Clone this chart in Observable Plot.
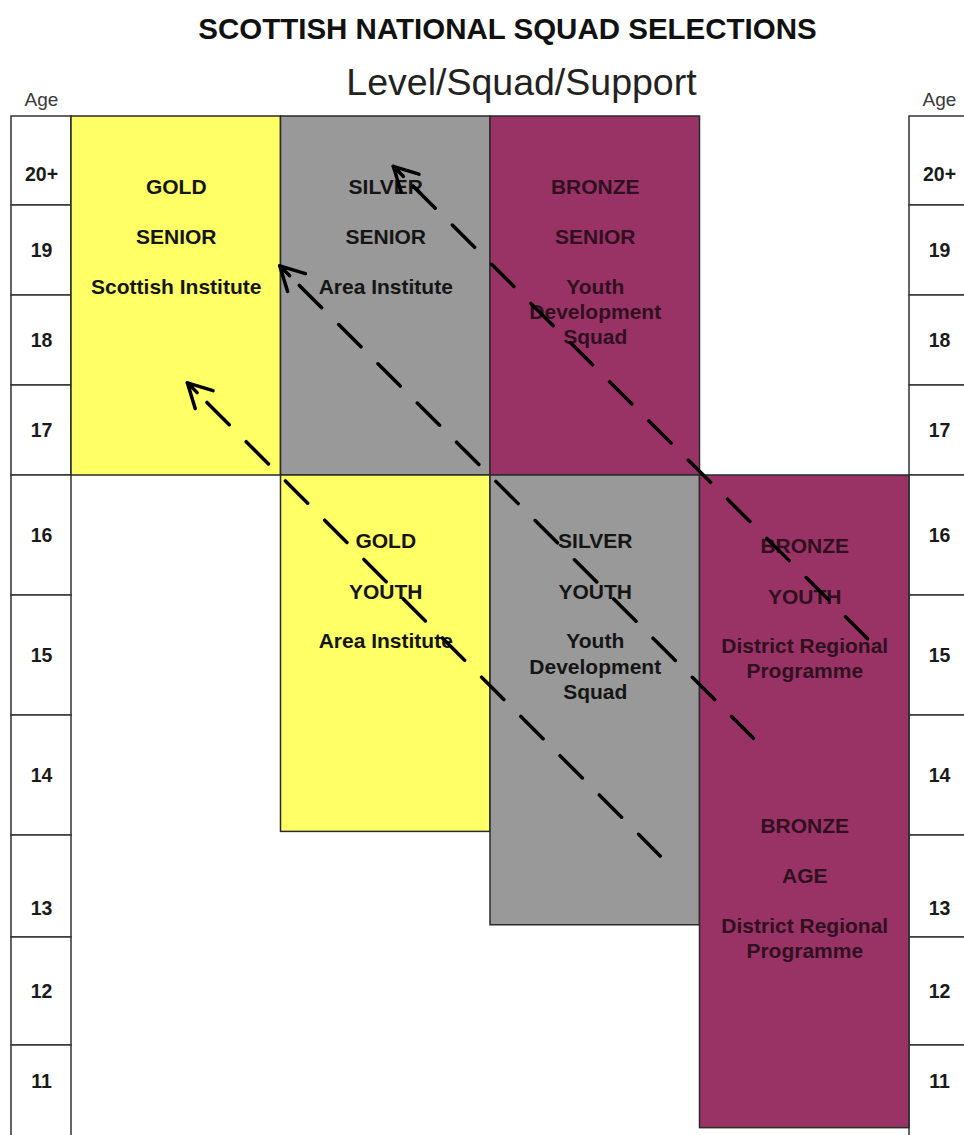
<!DOCTYPE html>
<html>
<head>
<meta charset="utf-8">
<script src="https://cdn.jsdelivr.net/npm/d3@7"></script>
<script src="https://cdn.jsdelivr.net/npm/@observablehq/plot@0.6"></script>
<style>
  html, body { margin: 0; padding: 0; background: #fff; overflow: hidden; }
  #wrap { position: relative; width: 964px; height: 1135px; overflow: hidden;
          font-family: "Liberation Sans", Arial, Helvetica, sans-serif; }
  #chart { position: absolute; top: 80px; left: 0; }
  .title { position: absolute; top: 13.8px; left: 507.5px; transform: translateX(-50%);
           font-size: 29.5px; font-weight: bold; line-height: 1; white-space: nowrap; color: #111; }
  .subtitle { position: absolute; top: 63.5px; left: 521.5px; transform: translateX(-50%);
              font-size: 37.5px; line-height: 1; white-space: nowrap; color: #222; }
</style>
</head>
<body>
<div id="wrap">
  <div id="chart"></div>
  <div class="title">SCOTTISH NATIONAL SQUAD SELECTIONS</div>
  <div class="subtitle">Level/Squad/Support</div>
</div>
<script>
// ---- Age rows of the side tables (top to bottom) ----
const ageLabels = ["20+", "19", "18", "17", "16", "15", "14", "13", "12", "11"];
const ageValues = [20, 19, 18, 17, 16, 15, 14, 13, 12, 11];

// ---- Coloured squad boxes ----
const boxLevel     = ["GOLD", "SILVER", "BRONZE", "GOLD", "SILVER", "BRONZE"];
const boxColumn    = [0, 1, 2, 1, 2, 3];
const boxAgeTop    = [21, 21, 21, 17, 17, 17];
const boxAgeBottom = [17, 17, 17, 14.03, 13.12, 11.13];

// ---- Text blocks inside the boxes ----
const blockLevel   = ["GOLD", "SILVER", "BRONZE", "GOLD", "SILVER", "BRONZE", "BRONZE"];
const blockStage   = ["SENIOR", "SENIOR", "SENIOR", "YOUTH", "YOUTH", "YOUTH", "AGE"];
const blockSupport = ["Scottish Institute", "Area Institute", "Youth\nDevelopment\nSquad",
                      "Area Institute", "Youth\nDevelopment\nSquad",
                      "District Regional\nProgramme", "District Regional\nProgramme"];
const blockColumn  = [0, 1, 2, 1, 2, 3, 3];
const blockAge     = [20.21, 20.21, 20.21, 16.45, 16.45, 16.41, 14.08];

// ---- Progression arrows (dashed, pointing up to the next level) ----
const arrowFromColumn = [2.81, 3.255, 3.80];
const arrowFromAge    = [13.80, 14.81, 15.64];
const arrowToColumn   = [0.553, 0.994, 1.536];
const arrowToAge      = [18.03, 19.33, 20.44];

// ---- Level colours ----
const levelNames = ["GOLD", "SILVER", "BRONZE"];
const levelFill  = ["#ffff66", "#999999", "#993366"];
const levelInk   = ["#151515", "#151515", "#30101f"];

// ---- build tables for the library ----
const rows = ageLabels.map((label, i) => ({label, age: ageValues[i]}));
const sides = ["L", "R"];
const ageCells = rows.flatMap(r => sides.map(side => ({...r, side})));
const boxes = boxLevel.map((level, i) => ({
  level, column: boxColumn[i], top: boxAgeTop[i], bottom: boxAgeBottom[i]
}));
const blocks = blockLevel.map((level, i) => ({
  level, stage: blockStage[i], support: blockSupport[i], column: blockColumn[i], age: blockAge[i]
}));
const arrows = arrowFromColumn.map((c, i) => ({
  fx: c, fy: arrowFromAge[i], tx: arrowToColumn[i], ty: arrowToAge[i]
}));

// layout helpers (styling only)
const AGE_COL = 60 / 209.5;                 // width of an age column in column units
const sideX1 = s => s === "L" ? -AGE_COL : 4;
const sideX2 = s => s === "L" ? 0 : 4 + AGE_COL;
const sideXc = s => s === "L" ? -AGE_COL / 2 : 4 + AGE_COL / 2;
const ageLabelShift = {"20+": 14, "13": 22, "11": -11};
const fillOf = d => levelFill[levelNames.indexOf(d.level)];
const inkOf = d => levelInk[levelNames.indexOf(d.level)];

const FONT = '"Liberation Sans", Arial, Helvetica, sans-serif';

const chart = Plot.plot({
  width: 964,
  height: 1055,
  marginTop: 0, marginBottom: 0, marginLeft: 0, marginRight: 0,
  style: {fontFamily: FONT, background: "transparent", overflow: "hidden"},
  x: {type: "linear", domain: [0, 4], range: [71, 909], axis: null},
  y: {
    type: "linear",
    domain: [21, 20, 19, 18, 17, 16, 15, 14, 13, 12, 11],
    range:  [36, 125, 215, 305, 395, 515, 635, 755, 857, 965, 1060],
    axis: null
  },
  color: {type: "identity"},
  marks: [
    // side age tables
    Plot.rect(ageCells, {
      x1: d => sideX1(d.side), x2: d => sideX2(d.side),
      y1: d => d.age + 1, y2: d => d.age,
      fill: "white", stroke: "#333", strokeWidth: 1.5
    }),
    Plot.text(sides, {
      x: s => sideXc(s), y: () => 21, text: () => "Age",
      dy: -17, fontSize: 19, fill: "#3a3a3a"
    }),
    ...rows.map(r => Plot.text(sides, {
      x: s => sideXc(s), y: () => r.age + 0.5, text: () => r.label,
      dy: ageLabelShift[r.label] || 0,
      fontSize: 19.5, fontWeight: "bold", fill: "#1a1a1a"
    })),
    // squad boxes
    Plot.rect(boxes, {
      x1: d => d.column, x2: d => d.column + 1,
      y1: "top", y2: "bottom",
      fill: fillOf, stroke: "#2a2a2a", strokeWidth: 1.5
    }),
    // box texts
    Plot.text(blocks, {
      x: d => d.column + 0.5, y: "age", text: "level",
      fill: inkOf, fontSize: 21, fontWeight: "bold"
    }),
    Plot.text(blocks, {
      x: d => d.column + 0.5, y: "age", text: "stage", dy: 50.5,
      fill: inkOf, fontSize: 21, fontWeight: "bold"
    }),
    Plot.text(blocks, {
      x: d => d.column + 0.5, y: "age", text: "support",
      lineAnchor: "top", lineHeight: 1.214, dy: 88.6,
      fill: inkOf, fontSize: 21, fontWeight: "bold"
    }),
    // dashed progression lines
    Plot.link(arrows, {
      x1: "tx", y1: "ty", x2: "fx", y2: "fy",
      stroke: "#000", strokeWidth: 3.5,
      strokeDasharray: "31.5,24", strokeDashoffset: 27.75,
      strokeLinecap: "round"
    }),
    // arrow heads
    Plot.arrow(arrows, {
      x1: "fx", y1: "fy", x2: "tx", y2: "ty",
      insetStart: 655, headLength: 11.5, headAngle: 56,
      stroke: "#000", strokeWidth: 3.5,
      strokeLinecap: "round", strokeLinejoin: "round"
    })
  ]
});
document.getElementById("chart").appendChild(chart);
</script>
</body>
</html>
